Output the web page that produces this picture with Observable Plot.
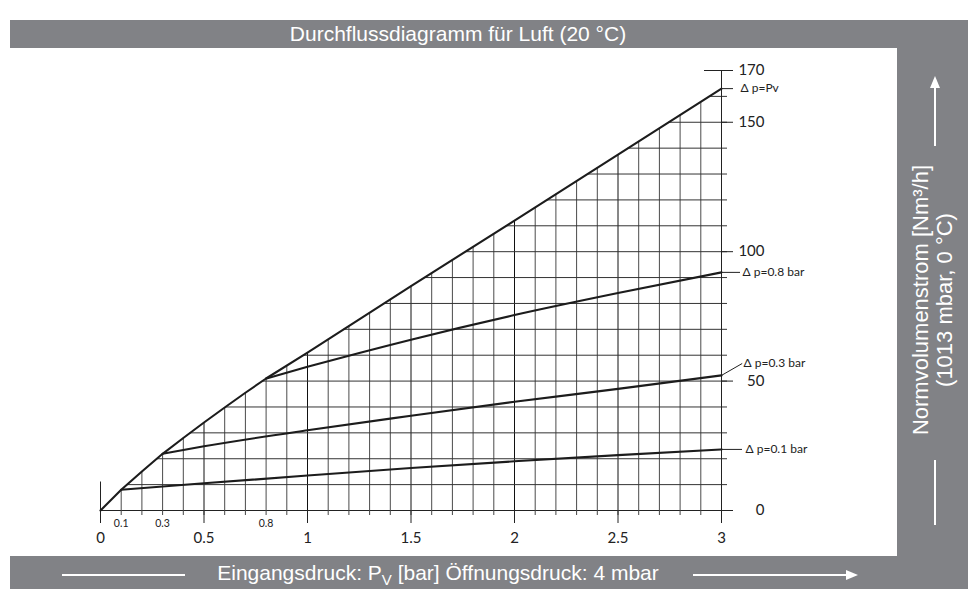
<!DOCTYPE html>
<html><head><meta charset="utf-8">
<script src="https://cdn.jsdelivr.net/npm/d3@7"></script>
<script src="https://cdn.jsdelivr.net/npm/@observablehq/plot@0.6"></script>
<style>
html,body{margin:0;padding:0;background:#fff;}
#frame{position:relative;width:968px;height:589px;overflow:hidden;font-family:"Liberation Sans",Arial,sans-serif;}
.bar{position:absolute;background:#818286;color:#fff;}
#chart{position:absolute;left:10px;top:48px;width:887px;height:508px;}
#title{position:absolute;left:0;top:0;width:896px;height:28px;line-height:28px;text-align:center;font-size:21px;}
#btext{position:absolute;left:0;top:0;width:856px;height:33px;line-height:33px;text-align:center;font-size:21px;}
#rtext{position:absolute;left:-113px;top:227px;width:300px;height:50px;line-height:24px;text-align:center;font-size:22px;transform:rotate(-90deg);white-space:nowrap;}
.bar svg{position:absolute;left:0;top:0;}
</style></head><body>
<div id="frame">
  <div class="bar" style="left:10px;top:20px;width:958px;height:28px;"><div id="title">Durchflussdiagramm für Luft (20 °C)</div></div>
  <div class="bar" style="left:897px;top:48px;width:71px;height:508px;">
    <svg width="71" height="508"><line x1="38" y1="98" x2="38" y2="36" stroke="#fff" stroke-width="2"/><polygon points="38,28 33,40 43,40" fill="#fff"/><line x1="38" y1="412" x2="38" y2="477" stroke="#fff" stroke-width="2"/></svg>
    <div id="rtext">Normvolumenstrom [Nm³/h]<br>(1013 mbar, 0 °C)</div>
  </div>
  <div class="bar" style="left:10px;top:556px;width:958px;height:33px;">
    <svg width="958" height="33"><line x1="52" y1="19" x2="175" y2="19" stroke="#fff" stroke-width="2"/><line x1="683" y1="19" x2="838" y2="19" stroke="#fff" stroke-width="2"/><polygon points="848,19 836,14 836,24" fill="#fff"/></svg>
    <div id="btext">Eingangsdruck: P<sub style="font-size:15px">V</sub> [bar] Öffnungsdruck: 4 mbar</div>
  </div>
  <div id="chart"></div>
</div>
<script>
// ---- data ----
const pvX   = [0, 0.1, 0.2, 0.3, 0.4, 0.5, 0.6, 0.7, 0.8, 1, 1.5, 2, 2.5, 3];
const pvY   = [0, 8, 15.1, 21.9, 28, 34, 39.8, 45.5, 51, 61, 86.7, 112, 137.5, 163];
const dp08X = [0.8, 1, 1.5, 2, 2.5, 3];
const dp08Y = [51, 55.5, 66, 75.5, 84, 92];
const dp03X = [0.3, 0.5, 1, 1.5, 2, 2.5, 3];
const dp03Y = [21.9, 24.8, 31, 36.6, 42, 47, 52.2];
const dp01X = [0.1, 0.5, 1, 1.5, 2, 2.5, 3];
const dp01Y = [8, 10.5, 13.5, 16.4, 19, 21.4, 23.6];
const seriesLabels = ["\u0394 p=Pv", "\u0394 p=0.8 bar", "\u0394 p=0.3 bar", "\u0394 p=0.1 bar"];
const xMajorTicks = [0, 0.5, 1, 1.5, 2, 2.5, 3];
const xMajorLabels = ["0", "0.5", "1", "1.5", "2", "2.5", "3"];
const xMinorLabelTicks = [0.1, 0.3, 0.8];
const xMinorLabels = ["0.1", "0.3", "0.8"];
const yTicks = [0, 50, 100, 150, 170];
const yTickLabels = ["0", "50", "100", "150", "170"];
const gridX = d3.range(0, 31).map(i => +(i / 10).toFixed(1));
const gridY = d3.range(10, 170, 10);
const yDomainMax = 170;
const xDomainMax = 3;
const zeroLineTop = 11;

// ---- derived ----
const zip = (xs, ys) => xs.map((x, i) => ({x, y: ys[i]}));
const pv = zip(pvX, pvY), dp08 = zip(dp08X, dp08Y), dp03 = zip(dp03X, dp03Y), dp01 = zip(dp01X, dp01Y);
const env = d3.scaleLinear(pvX, pvY);
const envInv = d3.scaleLinear(pvY, pvX);
const vMinor = gridX.filter(x => x > 0 && x < 3 && !xMajorTicks.includes(x)).map(x => ({x, top: env(x)}));
const vMajor = gridX.filter(x => x > 0 && x < 3 && xMajorTicks.includes(x)).map(x => ({x, top: env(x)}));
const hLines = gridY.map(y => ({y, x1: envInv(y)}));
const ends = [pv, dp08, dp03, dp01].map((s, i) => ({x: s[s.length - 1].x, y: s[s.length - 1].y, label: seriesLabels[i]}));
const lab = (i) => [ends[i]];
const F = "Lato, 'DejaVu Sans', sans-serif";
const curveStyle = {x: "x", y: "y", stroke: "#1c1c1c", strokeWidth: 2.1, curve: "monotone-x", strokeLinejoin: "round"};

const chart = Plot.plot({
  width: 887, height: 508,
  marginLeft: 90, marginRight: 176, marginTop: 22, marginBottom: 46,
  x: {domain: [0, xDomainMax], axis: null},
  y: {domain: [0, yDomainMax], axis: null},
  style: {fontFamily: F, background: "transparent", overflow: "visible", color: "#222"},
  marks: [
    Plot.ruleX(vMinor, {x: "x", y1: 0, y2: "top", stroke: "#4a4a4a", strokeWidth: 1}),
    Plot.ruleX(vMajor, {x: "x", y1: 0, y2: "top", stroke: "#111", strokeWidth: 1}),
    Plot.ruleY(hLines, {y: "y", x1: "x1", x2: xDomainMax, insetRight: -6, stroke: "#333", strokeWidth: 1}),
    Plot.ruleX([xDomainMax], {y1: 0, y2: yDomainMax, stroke: "#222", strokeWidth: 1}),
    Plot.ruleX([0], {y1: 0, y2: zeroLineTop, stroke: "#222", strokeWidth: 1}),
    Plot.ruleY([0], {x1: 0, x2: xDomainMax, insetRight: -12, stroke: "#222", strokeWidth: 1}),
    Plot.ruleY([50, 100, 150], {x1: xDomainMax, x2: xDomainMax, insetRight: -12, stroke: "#222"}),
    Plot.ruleY([170], {x1: xDomainMax, x2: xDomainMax, insetLeft: -17, insetRight: -12, stroke: "#222"}),
    // x ticks
    Plot.ruleX(gridX, {x: d => d, y1: 0, y2: 0, insetBottom: -5, stroke: "#444"}),
    Plot.ruleX(xMajorTicks, {x: d => d, y1: 0, y2: 0, insetBottom: -13, stroke: "#222"}),
    // curves
    Plot.line(dp01, curveStyle),
    Plot.line(dp03, curveStyle),
    Plot.line(dp08, curveStyle),
    Plot.line(pv, {...curveStyle, curve: "linear"}),
    // leaders
    Plot.ruleY(lab(0), {y: "y", x1: "x", x2: "x", insetRight: -12, stroke: "#222"}),
    Plot.ruleY(lab(1), {y: "y", x1: "x", x2: "x", insetRight: -19, stroke: "#222"}),
    Plot.link(lab(2), {x1: "x", y1: "y", x2: d => d.x + 0.1, y2: d => d.y + 4.6, stroke: "#222", strokeWidth: 1}),
    Plot.ruleY(lab(3), {y: "y", x1: "x", x2: "x", insetRight: -21, stroke: "#222"}),
    // series labels
    Plot.text(lab(0), {x: "x", y: "y", text: "label", dx: 19, textAnchor: "start", fontSize: 12, fill: "#222"}),
    Plot.text(lab(1), {x: "x", y: "y", text: "label", dx: 21, textAnchor: "start", fontSize: 12, fill: "#222"}),
    Plot.text(lab(2), {x: "x", y: "y", text: "label", dx: 22, dy: -12.5, textAnchor: "start", fontSize: 12, fill: "#222"}),
    Plot.text(lab(3), {x: "x", y: "y", text: "label", dx: 24, textAnchor: "start", fontSize: 12, fill: "#222"}),
    // axis labels
    Plot.text(yTicks, {x: xDomainMax, y: d => d, text: (d, i) => yTickLabels[i], dx: 43, textAnchor: "end", fontSize: 15, fill: "#222"}),
    Plot.text(xMajorTicks, {x: d => d, y: 0, text: (d, i) => xMajorLabels[i], dy: 28, fontSize: 15, fill: "#222"}),
    Plot.text(xMinorLabelTicks, {x: d => d, y: 0, text: (d, i) => xMinorLabels[i], dy: 13, fontSize: 10.5, fill: "#222"})
  ]
});
document.getElementById("chart").appendChild(chart);
</script>
</body></html>
